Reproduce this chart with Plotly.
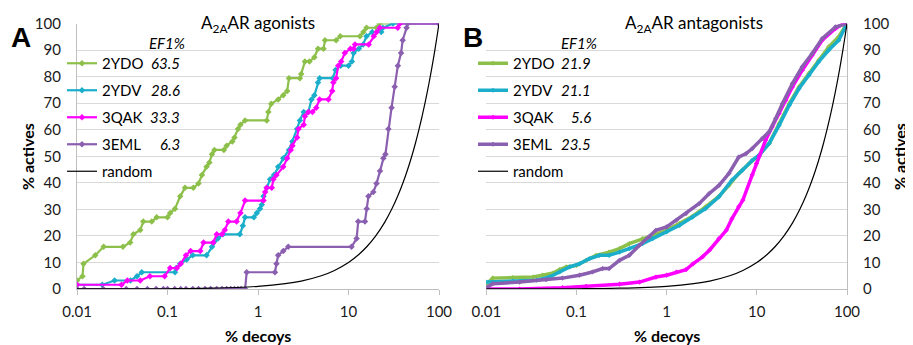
import plotly.graph_objects as go
from plotly.subplots import make_subplots

FONT = "Lato"
# the page body has an 8 px margin, so the figure is 8 px smaller and
# reference pixel positions are shifted by 8 px
OFF = 8
W, H = 913 - OFF, 345 - OFF

# ---------------- data: A2AAR agonists (panel A) ----------------
ag_2ydo_x = [0.01, 0.0115, 0.0118, 0.0159, 0.0197, 0.0322, 0.0387, 0.042, 0.050, 0.054,
             0.067, 0.076, 0.1, 0.107, 0.121, 0.138, 0.156, 0.193, 0.22, 0.24,
             0.27, 0.29, 0.31, 0.33, 0.42, 0.45, 0.52, 0.55, 0.6, 0.64,
             0.72, 1.25, 1.3, 1.4, 1.67, 1.9, 2.1, 2.2, 2.9, 3.0,
             3.3, 3.7, 4.2, 4.6, 5.3, 5.5, 7.3, 8.1, 13.4, 14.6,
             15.8, 20.4, 22, 100]
ag_2ydo_y = [3.2, 4.8, 9.5, 12.7, 15.9, 15.9, 17.5, 20.6, 22.2, 25.4,
             25.4, 27.0, 27.0, 28.6, 30.2, 34.9, 38.1, 38.1, 39.7, 42.9,
             46.0, 47.6, 50.8, 52.4, 52.4, 54.0, 55.6, 57.1, 60.3, 61.9,
             63.5, 63.5, 66.7, 69.8, 71.4, 73.0, 74.6, 79.4, 79.4, 81.0,
             85.7, 85.7, 87.3, 90.5, 90.5, 93.7, 93.7, 95.2, 95.2, 96.8,
             98.4, 98.4, 100, 100]

ag_2ydv_x = [0.01, 0.019, 0.026, 0.039, 0.046, 0.052, 0.121, 0.125, 0.138, 0.163,
             0.19, 0.27, 0.31, 0.36, 0.41, 0.63, 0.68, 0.72, 0.9, 0.97,
             1.05, 1.1, 1.15, 1.25, 1.36, 1.5, 1.67, 1.9, 2.2, 2.4,
             2.7, 2.9, 3.2, 3.6, 3.9, 4.2, 4.6, 4.8, 6.7, 7.2,
             8.2, 10, 10.9, 11.4, 13, 14.5, 15.8, 18.3, 23, 24,
             31, 100]
ag_2ydv_y = [1.6, 1.6, 3.2, 3.2, 4.8, 6.3, 6.3, 7.9, 9.5, 11.1,
             12.7, 12.7, 15.9, 19.0, 20.6, 20.6, 23.8, 27.0, 27.0, 28.6,
             30.2, 31.7, 34.9, 38.1, 41.3, 42.9, 46.0, 49.2, 52.4, 55.6,
             60.3, 63.5, 66.7, 66.7, 71.4, 73.0, 77.8, 79.4, 79.4, 82.5,
             84.1, 84.1, 85.7, 88.9, 90.5, 92.1, 95.2, 96.8, 96.8, 98.4,
             100, 100]

ag_3qak_x = [0.01, 0.031, 0.036, 0.05, 0.064, 0.093, 0.107, 0.127, 0.14, 0.16,
             0.18, 0.23, 0.25, 0.32, 0.35, 0.4, 0.43, 0.47, 0.58, 0.64,
             0.72, 1.15, 1.2, 1.25, 1.42, 1.48, 1.6, 1.9, 2.1, 2.3,
             2.4, 2.7, 2.8, 3.2, 3.3, 3.6, 4.0, 4.4, 4.8, 6.0,
             6.6, 6.8, 7.3, 7.7, 8.3, 9.1, 10.5, 11.4, 11.8, 16.7,
             19, 20.5, 22.2, 35, 37, 100]
ag_3qak_y = [1.6, 1.6, 3.2, 3.2, 4.8, 4.8, 7.9, 7.9, 9.5, 12.7,
             14.3, 14.3, 17.5, 17.5, 20.6, 20.6, 22.2, 25.4, 25.4, 28.6,
             33.3, 33.3, 36.5, 38.1, 38.1, 41.3, 42.9, 46.0, 49.2, 52.4,
             54.0, 57.1, 60.3, 61.9, 65.1, 66.7, 66.7, 68.3, 71.4, 71.4,
             74.6, 77.8, 79.4, 84.1, 85.7, 88.9, 90.5, 90.5, 92.1, 92.1,
             95.2, 96.8, 98.4, 98.4, 100, 100]

ag_3eml_x = [0.01, 0.012, 0.0195, 0.035, 0.046, 0.06, 0.075, 0.09, 0.1, 0.12,
             0.14, 0.16, 0.19, 0.22, 0.26, 0.3, 0.35, 0.4, 0.45, 0.5,
             0.55, 0.6, 0.65, 0.72, 0.75, 1.54, 1.6, 1.67, 1.9, 2.16,
             10.8, 12.3, 12.8, 15.2, 15.9, 16.6, 18.8, 20.4, 22.3, 24.3,
             25.6, 27.6, 29.9, 32.4, 35.1, 38.1, 39.7, 43.8, 45, 100]
ag_3eml_y = [0, 0, 0, 0, 0, 0, 0, 0, 0, 0,
             0, 0, 0, 0, 0, 0, 0, 0, 0, 0,
             0, 0, 0, 0, 6.3, 6.3, 9.5, 12.7, 14.3, 15.9,
             15.9, 19.0, 25.4, 25.4, 30.2, 34.9, 36.5, 39.7, 44.4, 49.2,
             50.8, 60.3, 68.3, 76.2, 84.1, 88.9, 93.7, 98.4, 100, 100]

# ---------------- data: A2AAR antagonists (panel B) ----------------
an_2ydo_x = [0.01, 0.0118, 0.0197, 0.033, 0.042, 0.055, 0.065, 0.077, 0.1, 0.128,
             0.165, 0.23, 0.3, 0.385, 0.54, 0.70, 1.0, 1.39, 1.94, 2.7,
             3.8, 4.9, 6.3, 8.2, 10.6, 13.7, 17.7, 22.9, 29.4, 37.9,
             48.6, 62.8, 81, 100]
an_2ydo_y = [1.8, 4.1, 4.3, 4.5, 5.2, 6.0, 7.3, 8.3, 8.9, 10.8,
             12.7, 13.9, 15.2, 17.1, 19.0, 20.2, 22.1, 24.6, 27.4, 30.9,
             34.9, 39.0, 43.5, 47.2, 50.4, 54.8, 62.3, 69.8, 76.1, 81.2,
             86.2, 91.2, 95.0, 100]

an_2ydv_x = [0.01, 0.0197, 0.036, 0.050, 0.065, 0.084, 0.108, 0.139, 0.18, 0.23,
             0.30, 0.385, 0.54, 0.70, 1.0, 1.39, 1.94, 2.7, 3.8, 5.3,
             6.9, 8.9, 10.6, 13.7, 17.7, 22.9, 29.4, 37.9, 48.6, 62.8,
             81, 100]
an_2ydv_y = [2.6, 3.0, 3.3, 4.5, 6.4, 8.3, 9.5, 11.4, 12.7, 12.7,
             13.9, 15.2, 17.1, 19.0, 21.5, 24.0, 27.1, 30.3, 34.7, 41.0,
             44.7, 48.5, 50.4, 54.8, 61.7, 69.2, 75.5, 80.5, 85.6, 90.0,
             93.7, 100]

an_3qak_x = [0.01, 0.0234, 0.07, 0.128, 0.3, 0.5, 0.76, 1.0, 1.28, 1.64,
             1.96, 2.5, 3.0, 3.8, 4.6, 5.3, 6.3, 7.0, 8.9, 9.9,
             10.6, 12.5, 14.8, 17.7, 21, 24.8, 31.9, 41.1, 53, 74.4,
             92, 100]
an_3qak_y = [0, 0, 0.5, 1.0, 1.8, 2.6, 4.5, 5.2, 6.4, 7.3,
             9.5, 12.1, 14.7, 19.0, 22.2, 26.5, 31.0, 33.5, 43.0, 47.3,
             50.0, 56.0, 61.1, 66.1, 71.1, 76.1, 82.4, 88.1, 93.7, 98.1,
             100, 100]

an_3eml_x = [0.01, 0.0118, 0.0234, 0.046, 0.07, 0.108, 0.15, 0.195, 0.23, 0.30,
             0.385, 0.5, 0.64, 0.76, 1.0, 1.28, 1.64, 2.3, 2.95, 3.8,
             4.9, 6.3, 7.6, 8.9, 11.5, 13.7, 16.2, 19.2, 24.8, 31.9,
             41.1, 53, 74.4, 100]
an_3eml_y = [0.5, 2.0, 2.6, 3.5, 4.1, 5.2, 6.4, 7.7, 7.7, 10.8,
             12.7, 16.5, 19.6, 22.1, 23.4, 25.9, 28.4, 32.2, 35.9, 39.0,
             43.5, 49.7, 51.0, 52.9, 56.7, 59.2, 64.2, 69.8, 77.4, 83.7,
             88.7, 94.3, 98.7, 100]

# random selection reference (% actives equals % decoys)
random_x = [0.01, 0.1, 0.3, 1, 2, 3, 5, 7, 10, 13, 16, 20, 25, 30, 35, 40, 45, 50,
            55, 60, 65, 70, 75, 80, 85, 90, 95, 100]
random_y = [0.01, 0.1, 0.3, 1, 2, 3, 5, 7, 10, 13, 16, 20, 25, 30, 35, 40, 45, 50,
            55, 60, 65, 70, 75, 80, 85, 90, 95, 100]

names = ["2YDO", "2YDV", "3QAK", "3EML"]
colors = ["#8DC04A", "#1BAECB", "#FF00FF", "#8B5FB0"]
ef_agonists = ["63.5", "28.6", "33.3", "6.3"]
ef_antagonists = ["21.9", "21.1", "5.6", "23.5"]
panel_titles = ["A<sub>2A</sub>AR agonists", "A<sub>2A</sub>AR antagonists"]
x_ticks = [0.01, 0.1, 1, 10, 100]
x_ticktext = ["0.01", "0.1", "1", "10", "100"]
y_ticks = [0, 10, 20, 30, 40, 50, 60, 70, 80, 90, 100]

agonists = [(ag_2ydo_x, ag_2ydo_y), (ag_2ydv_x, ag_2ydv_y), (ag_3qak_x, ag_3qak_y), (ag_3eml_x, ag_3eml_y)]
antagonists = [(an_2ydo_x, an_2ydo_y), (an_2ydv_x, an_2ydv_y), (an_3qak_x, an_3qak_y), (an_3eml_x, an_3eml_y)]
for xs, ys in agonists + antagonists + [(random_x, random_y)]:
    assert len(xs) == len(ys)

fig = make_subplots(rows=1, cols=2)

for col, (series, leg, lw, ms) in enumerate([(agonists, "legend", 2.2, 5), (antagonists, "legend2", 3.5, 4)], start=1):
    for i, (xs, ys) in enumerate(series):
        fig.add_trace(go.Scatter(
            x=xs, y=ys, mode="lines+markers", name=names[i],
            line=dict(color=colors[i], width=lw),
            marker=dict(color=colors[i], size=ms, symbol="diamond"),
            legend=leg, legendgroup=f"{leg}{i}", showlegend=True,
        ), row=1, col=col)
    fig.add_trace(go.Scatter(
        x=random_x, y=random_y, mode="lines", name="random",
        line=dict(color="#000000", width=1.2, shape="spline"),
        legend=leg, legendgroup=f"{leg}r", showlegend=True,
    ), row=1, col=col)

def px2x(px):
    return (px - OFF) / W

def py2y(py):
    return 1 - (py - OFF) / H

dom_y = [py2y(289), py2y(23.5)]
axis_common = dict(
    type="log", range=[-2, 2], tickvals=x_ticks, ticktext=x_ticktext,
    showgrid=False, showline=True, linecolor="#BFBFBF", linewidth=1.2,
    ticks="outside", ticklen=5, tickcolor="#BFBFBF", automargin=False,
    ticklabelstandoff=4,
    tickfont=dict(family=FONT, size=15, color="#1a1a1a"), zeroline=False,
)
fig.update_xaxes(**axis_common)
fig.update_xaxes(domain=[px2x(77), px2x(439)], row=1, col=1)
fig.update_xaxes(domain=[px2x(486.3), px2x(847)], row=1, col=2)

yaxis_common = dict(
    range=[0, 100], tickvals=y_ticks, showgrid=True, gridcolor="#D9D9D9", gridwidth=1.3,
    showline=True, linecolor="#BFBFBF", linewidth=1.2, ticks="", zeroline=False,
    tickfont=dict(family=FONT, size=15, color="#1a1a1a"), domain=dom_y,
    ticklabelstandoff=12, automargin=False,
)
fig.update_yaxes(**yaxis_common)
fig.update_yaxes(side="left", row=1, col=1)
fig.update_yaxes(side="right", row=1, col=2)

legend_common = dict(
    xanchor="left", yanchor="top", bgcolor="rgba(0,0,0,0)",
    font=dict(family=FONT, size=15, color="#000000"),
    tracegroupgap=4.5, itemwidth=30, traceorder="grouped",
)
fig.update_layout(
    width=W, height=H, margin=dict(l=0, r=0, t=0, b=0, autoexpand=False),
    paper_bgcolor="white", plot_bgcolor="white",
    legend=dict(x=px2x(62), y=py2y(47), **legend_common),
    legend2=dict(x=px2x(473), y=py2y(47), **legend_common),
)

ann = []
# panel titles
ann.append(dict(text=panel_titles[0], x=px2x(258), y=py2y(24), xref="paper", yref="paper",
                showarrow=False, xanchor="center", yanchor="middle",
                font=dict(family=FONT, size=17, color="#000")))
ann.append(dict(text=panel_titles[1], x=px2x(694), y=py2y(24), xref="paper", yref="paper",
                showarrow=False, xanchor="center", yanchor="middle",
                font=dict(family=FONT, size=17, color="#000")))
# panel letters
for letter, px in [("A", 21), ("B", 473)]:
    ann.append(dict(text=f"<b>{letter}</b>", x=px2x(px), y=py2y(38), xref="paper", yref="paper",
                    showarrow=False, xanchor="center", yanchor="middle",
                    font=dict(family="Liberation Sans", size=28, color="#000")))
# axis titles
for px in [258, 666.5]:
    ann.append(dict(text="<b>% decoys</b>", x=px2x(px), y=py2y(335), xref="paper", yref="paper",
                    showarrow=False, xanchor="center", yanchor="middle",
                    font=dict(family=FONT, size=16, color="#000")))
for px in [27, 899]:
    ann.append(dict(text="<b>% actives</b>", x=px2x(px), y=py2y(157), xref="paper", yref="paper",
                    showarrow=False, xanchor="center", yanchor="middle", textangle=-90,
                    font=dict(family=FONT, size=16, color="#000")))
# EF1% column
row_py = [63.5, 90.2, 116.8, 143.5]
for hdr_px, right_px, efs in [(167, 182, ef_agonists), (579, 593, ef_antagonists)]:
    ann.append(dict(text="<i>EF1%</i>", x=px2x(hdr_px), y=py2y(42.5), xref="paper", yref="paper",
                    showarrow=False, xanchor="center", yanchor="middle",
                    font=dict(family=FONT, size=15, color="#000")))
    for v, py in zip(efs, row_py):
        ann.append(dict(text=f"<i>{v}</i>", x=px2x(right_px), y=py2y(py), xref="paper", yref="paper",
                        showarrow=False, xanchor="right", yanchor="middle",
                        font=dict(family=FONT, size=15, color="#000")))
fig.update_layout(annotations=ann)

fig.write_html("out.html")
